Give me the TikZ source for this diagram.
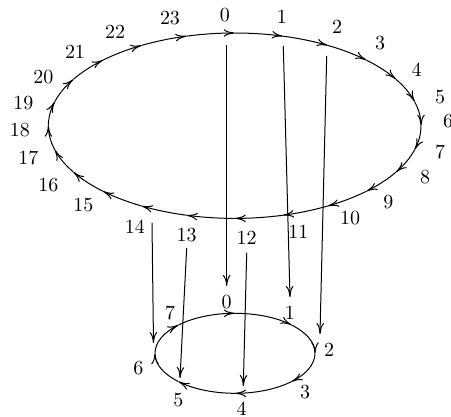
\documentclass[tikz,border=0pt]{standalone}
\usetikzlibrary{arrows.meta}
\begin{document}
\begin{tikzpicture}[x=0.5pt,y=-0.5pt, line width=0.5pt,
  >={To[length=5.5pt,width=3.8pt]},
  lab/.style={inner sep=0pt},
  seg/.style={->},
  mapline/.style={->}]
\useasboundingbox (0,0) rectangle (451,417);
% big ellipse
\coordinate (C) at (234.7,125.7);
\foreach \k in {0,...,23}{
  \pgfmathsetmacro{\a}{90-15*\k}
  \pgfmathsetmacro{\b}{75-15*\k}
  \draw[seg] (C) ++(\a:93.15pt and 46.35pt) arc[start angle=\a, end angle=\b, x radius=93.15pt, y radius=46.35pt];
}
% small ellipse
\coordinate (S) at (235,353.3);
\foreach \k in {0,...,7}{
  \pgfmathsetmacro{\a}{90-45*\k}
  \pgfmathsetmacro{\b}{45-45*\k}
  \draw[seg] (S) ++(\a:40pt and 20pt) arc[start angle=\a, end angle=\b, x radius=40pt, y radius=20pt];
}
% big labels
\foreach \n/\x/\y in {0/225/15, 1/282/17, 2/337/27, 3/380/43, 4/416.7/70, 5/440/96.7,
  6/448/121, 7/440/151.7, 8/425/176.7, 9/388.3/201.7, 10/350/218.3, 11/298.3/231.7,
  12/246.7/238.3, 13/186.7/235, 14/135/226.7, 15/83.3/205, 16/48.3/185, 17/28.3/158.3,
  18/20/130, 19/23.3/103.3, 20/43.3/76.7, 21/75/51.7, 22/115/32.3, 23/170/18.3}
  \node[lab] (b\n) at (\x,\y) {\n};
% small labels
\foreach \n/\x/\y in {0/226.7/301.7, 1/290/313.3, 2/329/350, 3/305/391.7,
  4/241.7/408.3, 5/178.3/400, 6/138.3/368.3, 7/170/313.3}
  \node[lab] (s\n) at (\x,\y) {\n};
% mapping lines
\coordinate (m0a) at (226.7,45);   \coordinate (m0b) at (226.7,286);
\coordinate (m1a) at (283.3,46);   \coordinate (m1b) at (290,297);
\coordinate (m2a) at (326.7,56);   \coordinate (m2b) at (320,334);
\coordinate (m14a) at (152,223);   \coordinate (m14b) at (153.5,343);
\coordinate (m13a) at (186.7,248); \coordinate (m13b) at (180,378);
\coordinate (m12a) at (246.7,253); \coordinate (m12b) at (243.3,386);
\foreach \m in {0,1,2,14,13,12}
  \draw[mapline] (m\m a) -- (m\m b);
\end{tikzpicture}
\end{document}
